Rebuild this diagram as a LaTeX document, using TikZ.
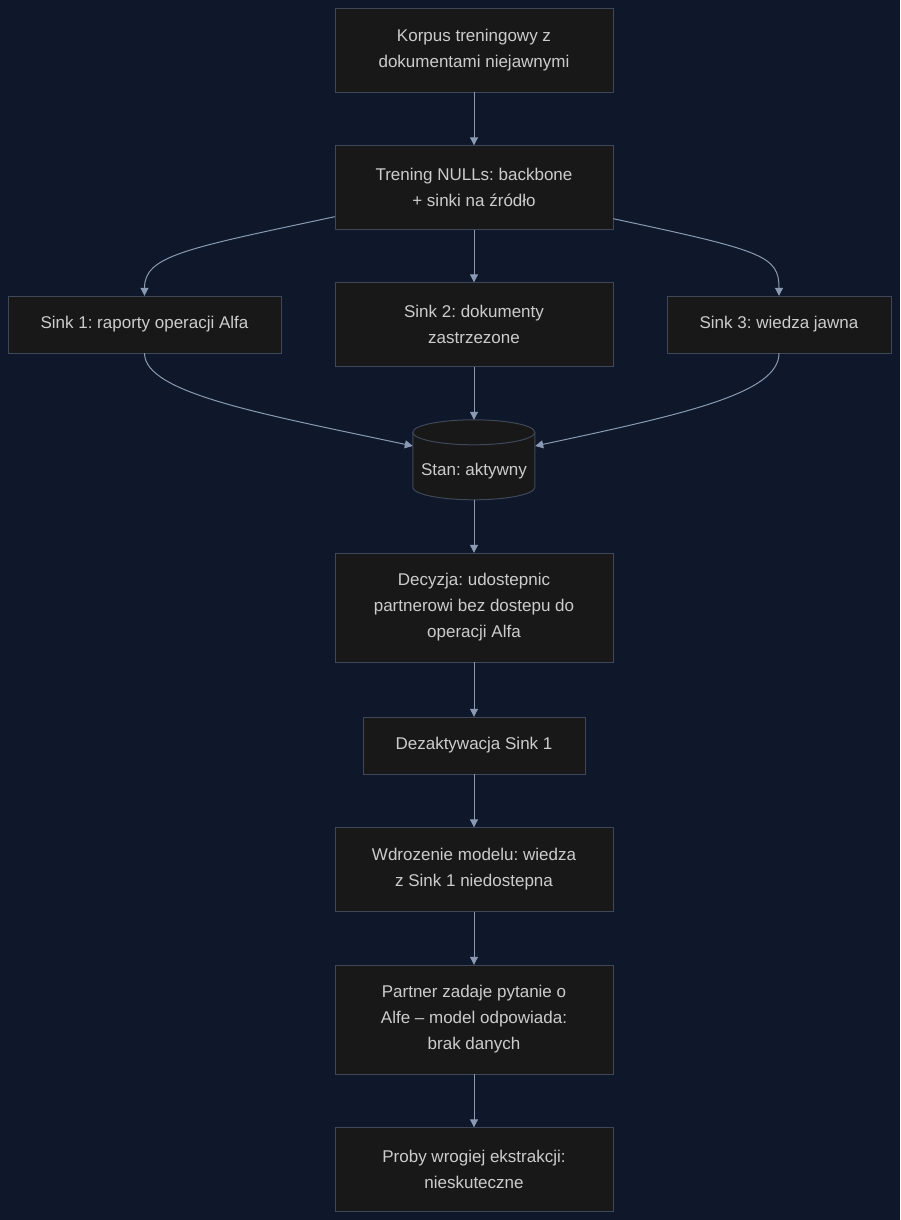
\documentclass[tikz,border=0pt]{standalone}
\usepackage{fontspec}
\setmainfont{Liberation Sans}
\frenchspacing
\usetikzlibrary{arrows.meta, positioning, calc}
\definecolor{nightbg}{RGB}{15, 23, 42}
\definecolor{boxfill}{RGB}{24, 24, 24}
\definecolor{boxline}{RGB}{62, 72, 88}
\definecolor{flowline}{RGB}{138, 154, 178}
\definecolor{labeltext}{RGB}{204, 204, 204}
\tikzset{
    block/.style={rectangle, draw=boxline, fill=boxfill, text=labeltext, align=center, minimum width=278pt, minimum height=84pt, inner sep=0pt, font=\fontsize{17}{26}\selectfont},
    flow/.style={draw=flowline, line width=1pt, -{Triangle[length=8pt, width=8pt]}}
}
\begin{document}
\begin{tikzpicture}[x=1pt, y=1pt]
        % Background and frame
        \fill[nightbg] (0,0) rectangle (900,-1220);
        \useasboundingbox (0,0) rectangle (900,-1220);

        % Main chain
        \node[block] (corpus) at (474,-50) {Korpus treningowy z\\dokumentami niejawnymi};
        \node[block] (training) at (474,-187.5) {Trening NULLs: backbone\\+ sinki na źródło};
        \node[block, minimum width=273pt, minimum height=57pt] (sinkA) at (144.5,-324.5) {Sink 1: raporty operacji Alfa};
        \node[block] (sinkB) at (474,-324.5) {Sink 2: dokumenty\\zastrzezone};
        \node[block, minimum width=224pt, minimum height=57pt] (sinkC) at (779,-324.5) {Sink 3: wiedza jawna};

        % State cylinder
        \node[minimum width=122pt, minimum height=80pt, inner sep=0pt] (state) at (474,-460) {};
        \draw[boxline, fill=boxfill, line width=1pt] (state.north west) ++(0,-12.5) -- ++(0,-55)
            arc[start angle=180, end angle=360, x radius=61, y radius=12.5] -- ++(0,55)
            arc[start angle=0, end angle=180, x radius=61, y radius=12.5] -- cycle;
        \draw[boxline, line width=1pt] (state.north west) ++(0,-12.5)
            arc[start angle=180, end angle=360, x radius=61, y radius=12.5];
        \node[text=labeltext, font=\fontsize{17}{26}\selectfont] (statetext) at ([yshift=-11pt]state.center) {Stan: aktywny};

        \node[block, minimum height=109pt] (decision) at (474,-607.5) {Decyzja: udostepnic\\partnerowi bez dostepu do\\operacji Alfa};
        \node[block, minimum width=222pt, minimum height=57pt] (deact) at (474,-745.5) {Dezaktywacja Sink 1};
        \node[block] (deploy) at (474,-869.5) {Wdrozenie modelu: wiedza\\z Sink 1 niedostepna};
        \node[block, minimum height=109pt] (partner) at (474,-1019.5) {Partner zadaje pytanie o\\Alfe – model odpowiada:\\brak danych};
        \node[block] (attacks) at (474,-1169.5) {Proby wrogiej ekstrakcji:\\nieskuteczne};

        % Connectors
        \draw[flow] (corpus) -- (training);
        \draw[flow] (training) -- (sinkB);
        \draw[flow] ([yshift=13pt]training.south west) .. controls +(-150,-32) and +(0,40) .. (sinkA.north);
        \draw[flow] ([yshift=11pt]training.south east) .. controls +(150,-32) and +(0,40) .. (sinkC.north);
        \draw[flow] (sinkA.south) .. controls +(0,-40) and +(-150,32) .. ([yshift=14pt]state.west);
        \draw[flow] (sinkB) -- (state.north);
        \draw[flow] (sinkC.south) .. controls +(0,-40) and +(150,32) .. ([yshift=14pt]state.east);
        \draw[flow] (state.south) -- (decision);
        \draw[flow] (decision) -- (deact);
        \draw[flow] (deact) -- (deploy);
        \draw[flow] (deploy) -- (partner);
        \draw[flow] (partner) -- (attacks);
    \end{tikzpicture}
\end{document}
